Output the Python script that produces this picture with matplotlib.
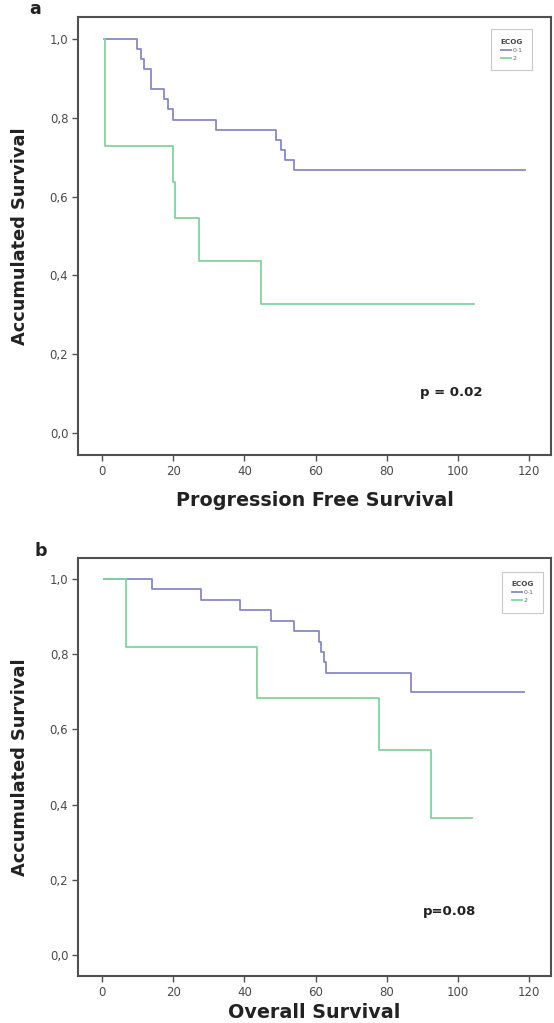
import matplotlib
matplotlib.use('Agg')
import matplotlib.pyplot as plt

# ---------------- data ----------------
legend_title = "ECOG"
group_labels = ["0-1", "2"]

# Panel a: Progression Free Survival (Kaplan-Meier steps)
pfs_t_ecog01 = [0.5, 9.8, 10.8, 11.8, 13.8, 17.3, 18.5, 19.9, 32.1, 48.8, 50.2, 51.3, 53.9, 119.0]
pfs_s_ecog01 = [1.0, 0.974, 0.949, 0.923, 0.872, 0.846, 0.821, 0.795, 0.769, 0.744, 0.718, 0.692, 0.667, 0.667]
pfs_t_ecog2 = [0.5, 0.8, 19.9, 20.5, 27.1, 44.6, 104.5]
pfs_s_ecog2 = [1.0, 0.727, 0.636, 0.545, 0.436, 0.327, 0.327]

# Panel b: Overall Survival
os_t_ecog01 = [0.5, 14.0, 27.7, 38.7, 47.6, 53.8, 60.9, 61.6, 62.3, 62.9, 86.8, 118.5]
os_s_ecog01 = [1.0, 0.972, 0.944, 0.917, 0.889, 0.861, 0.833, 0.806, 0.778, 0.750, 0.700, 0.700]
os_t_ecog2 = [0.5, 6.7, 43.5, 77.8, 92.5, 104.0]
os_s_ecog2 = [1.0, 0.818, 0.682, 0.545, 0.364, 0.364]

x_ticks = [0, 20, 40, 60, 80, 100, 120]
y_ticks = [0.0, 0.2, 0.4, 0.6, 0.8, 1.0]
y_tick_labels = ["0,0", "0,2", "0,4", "0,6", "0,8", "1,0"]

pfs_xlabel = "Progression Free Survival"
os_xlabel = "Overall Survival"
ylabel = "Accumulated Survival"
pfs_p = "p = 0.02"
os_p = "p=0.08"

# ---------------- style ----------------
BLUE = "#8888c8"
GREEN = "#82d49e"
AXC = "#505050"
TXT = "#4a4a4a"

W, H = 554, 1023
fig = plt.figure(figsize=(W / 100, H / 100), dpi=100)
fig.patch.set_facecolor("white")


def box(l, t, r, b):
    return [l / W, 1 - b / H, (r - l) / W, (b - t) / H]


def panel(rect, t1, s1, t2, s2, xlabel, ptext, ppos, letter, letter_pos,
          xlabel_y, ylabel_y, leg_anchor):
    ax = fig.add_axes(box(*rect))
    l1, = ax.step(t1, s1, where="post", color=BLUE, lw=1.3)
    l2, = ax.step(t2, s2, where="post", color=GREEN, lw=1.3)
    ax.set_xlim(-6.8, 126.2)
    ax.set_ylim(-0.055, 1.055)
    ax.set_xticks(x_ticks)
    ax.set_xticklabels([str(v) for v in x_ticks])
    ax.set_yticks(y_ticks)
    ax.set_yticklabels(y_tick_labels)
    for sp in ax.spines.values():
        sp.set_color(AXC)
        sp.set_linewidth(1.5)
    ax.tick_params(axis="both", direction="out", length=4, width=1.0,
                   colors=AXC, labelcolor=TXT, labelsize=8.5, pad=3)
    ax.text(ppos[0], ppos[1], ptext, transform=ax.transAxes,
            ha="center", va="center", fontsize=9.5, fontweight="bold",
            color="#222222")
    leg = ax.legend([l1, l2], group_labels, title=legend_title,
                    loc="upper right", bbox_to_anchor=leg_anchor,
                    fontsize=4.5, title_fontsize=5.2, handlelength=1.6,
                    handletextpad=0.3, borderpad=1.5, labelspacing=0.45,
                    frameon=True, fancybox=False, edgecolor="#c8c8c8",
                    framealpha=1.0)
    leg.get_frame().set_linewidth(0.8)
    leg.get_title().set_fontweight("bold")
    leg.get_title().set_color("#444444")
    for t in leg.get_texts():
        t.set_color("#666666")
    fig.text(letter_pos[0] / W, 1 - letter_pos[1] / H, letter,
             fontsize=12.5, fontweight="bold", ha="center", va="center",
             color="#222222")
    fig.text((rect[0] + rect[2]) / 2 / W, 1 - xlabel_y / H, xlabel,
             fontsize=13.8, fontweight="bold", ha="center", va="center",
             color="#222222")
    fig.text(20 / W, 1 - ylabel_y / H, ylabel, rotation=90,
             fontsize=12.8, fontweight="bold", ha="center", va="center",
             color="#222222")
    return ax


panel((78, 17, 551, 455), pfs_t_ecog01, pfs_s_ecog01, pfs_t_ecog2, pfs_s_ecog2,
      pfs_xlabel, pfs_p, (0.79, 0.142), "a", (35, 9), 500, 236,
      (0.967, 0.979))
panel((78, 558, 551, 976), os_t_ecog01, os_s_ecog01, os_t_ecog2, os_s_ecog2,
      os_xlabel, os_p, (0.786, 0.154), "b", (41, 551), 1012, 767,
      (0.99, 0.975))

fig.savefig("out.png", dpi=100, facecolor="white")
